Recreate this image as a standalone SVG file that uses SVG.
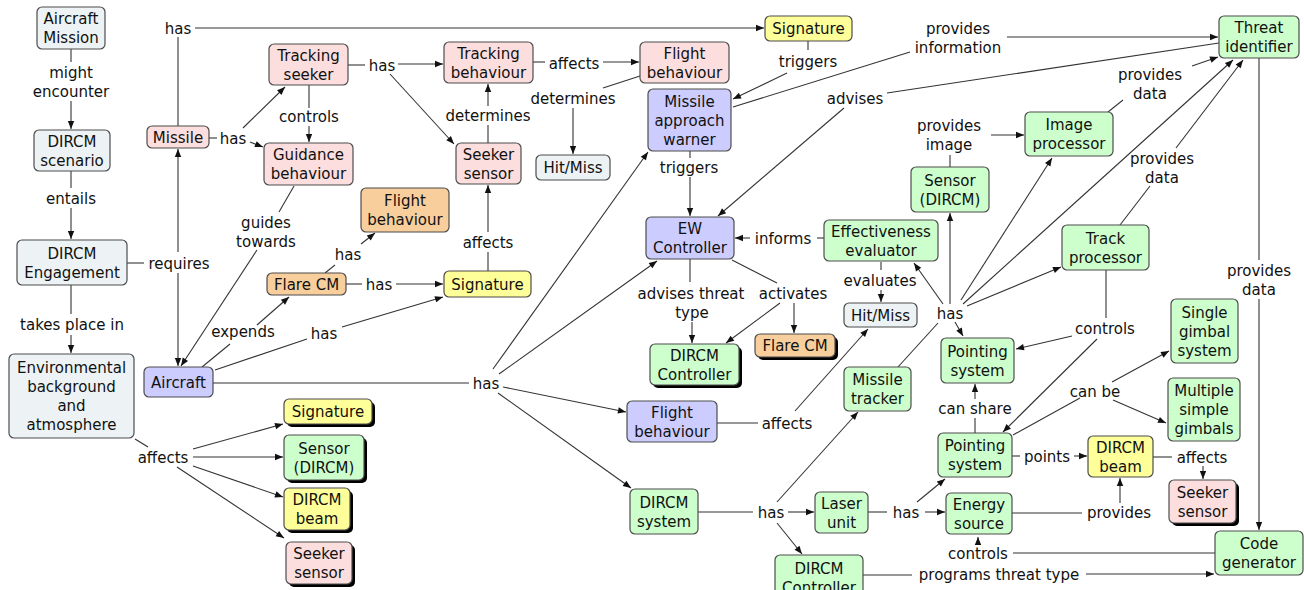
<svg xmlns="http://www.w3.org/2000/svg" width="1304" height="590" viewBox="0 0 1304 590">
<style>
text{font-family:"DejaVu Sans",Verdana,sans-serif;font-size:15px;fill:#111;text-anchor:middle}
.b{stroke:#4d4d4d;stroke-width:1.2}
.s{fill:#000}
.grey{fill:#edf3f4}.pink{fill:#fcdede}.blue{fill:#ccccff}.yellow{fill:#ffff99}.green{fill:#ccffcc}.orange{fill:#f8cf9c}
.ln{fill:none;stroke:#333;stroke-width:1.1}
.ar{fill:none;stroke:#333;stroke-width:1.1;marker-end:url(#ah)}
</style>
<defs>
<marker id="ah" viewBox="0 0 10 10" refX="10" refY="5" markerWidth="9" markerHeight="8" orient="auto" markerUnits="userSpaceOnUse"><path d="M0,1L10,5L0,9z" fill="#111"/></marker>
</defs>
<rect width="1304" height="590" fill="#fff"/>
<g id="connectors">
<path class="ln" d="M71,49V62"/><path class="ar" d="M71,101V129"/>
<path class="ln" d="M71,171V188"/><path class="ar" d="M71,208V239"/>
<path class="ln" d="M71,285V314"/><path class="ar" d="M71,335V353"/>
<path class="ln" d="M127,263H144"/>
<path class="ar" d="M178,252V149"/>
<path class="ar" d="M178,273V366"/>
<path class="ln" d="M178,126V37"/><path class="ar" d="M195,28H764"/>
<path class="ln" d="M209,138H217"/>
<path class="ar" d="M243,128L285,87"/>
<path class="ar" d="M250,142L263,147"/>
<path class="ln" d="M309,85V108"/><path class="ar" d="M309,126V142"/>
<path class="ln" d="M348,65H365"/><path class="ar" d="M398,64H443"/>
<path class="ar" d="M390,74L454,144"/>
<path class="ln" d="M533,62H545"/><path class="ar" d="M603,62H639"/>
<path class="ln" d="M488,143V125"/><path class="ar" d="M488,106V84"/>
<path class="ln" d="M640,76L603,88"/><path class="ar" d="M573,108V154"/>
<path class="ln" d="M808,41V50"/><path class="ar" d="M787,73L733,99"/>
<path class="ln" d="M733,107L910,52"/><path class="ar" d="M1007,37H1218"/>
<path class="ln" d="M1219,43L887,93"/><path class="ar" d="M844,108L718,216"/>
<path class="ln" d="M690,151V158"/><path class="ar" d="M690,177V216"/>
<path class="ln" d="M294,186L279,212"/><path class="ar" d="M257,250L181,366"/>
<path class="ln" d="M202,367L230,344"/><path class="ar" d="M257,325L289,297"/>
<path class="ln" d="M215,370L307,339"/><path class="ar" d="M342,327L443,297"/>
<path class="ln" d="M325,273L335,265"/><path class="ar" d="M361,244L375,233"/>
<path class="ln" d="M346,284H362"/><path class="ar" d="M396,284H443"/>
<path class="ln" d="M488,271V252"/><path class="ar" d="M488,232V185"/>
<path class="ln" d="M213,383H469"/>
<path class="ar" d="M493,369L648,152"/>
<path class="ar" d="M499,374L657,261"/>
<path class="ar" d="M503,387L626,412"/>
<path class="ar" d="M498,393L631,488"/>
<path class="ln" d="M135,439L148,447"/>
<path class="ar" d="M193,449L283,424"/>
<path class="ar" d="M193,457H283"/>
<path class="ar" d="M193,466L283,497"/>
<path class="ar" d="M177,467L284,538"/>
<path class="ln" d="M690,259V282"/><path class="ar" d="M692,322V343"/>
<path class="ln" d="M732,260L777,283"/><path class="ar" d="M780,303L726,343"/><path class="ar" d="M794,303V333"/>
<path class="ln" d="M824,238H817"/><path class="ar" d="M750,238H735"/>
<path class="ln" d="M881,262V270"/><path class="ar" d="M881,290V302"/>
<path class="ln" d="M898,367L938,323"/>
<path class="ar" d="M950,304V213"/>
<path class="ar" d="M943,304L914,263"/>
<path class="ar" d="M955,322L963,336"/>
<path class="ar" d="M967,306L1061,267"/>
<path class="ar" d="M961,300L1052,158"/>
<path class="ar" d="M963,304L1233,60"/>
<path class="ln" d="M950,167V155"/><path class="ar" d="M991,135H1024"/>
<path class="ln" d="M1108,112L1123,100"/><path class="ar" d="M1192,66L1218,57"/>
<path class="ln" d="M1120,225L1150,186"/><path class="ar" d="M1176,148L1243,60"/>
<path class="ln" d="M1106,270V318"/><path class="ar" d="M1072,336L1016,349"/><path class="ar" d="M1097,339L1003,432"/>
<path class="ln" d="M1259,58V260"/><path class="ar" d="M1259,299V530"/>
<path class="ln" d="M1013,435L1080,398"/><path class="ar" d="M1112,382L1169,351"/><path class="ar" d="M1113,400L1166,423"/>
<path class="ln" d="M975,433V418"/><path class="ar" d="M975,399V384"/>
<path class="ln" d="M1012,456H1020"/><path class="ar" d="M1074,456H1087"/>
<path class="ln" d="M1153,457H1172"/><path class="ar" d="M1203,466V479"/>
<path class="ln" d="M1012,513H1082"/><path class="ar" d="M1120,503V478"/>
<path class="ln" d="M1215,553H1013"/><path class="ar" d="M978,545V537"/>
<path class="ln" d="M863,575H912"/><path class="ar" d="M1086,574H1214"/>
<path class="ln" d="M698,512H753"/><path class="ar" d="M788,512H814"/><path class="ar" d="M777,502L858,412"/><path class="ar" d="M777,523L802,554"/>
<path class="ln" d="M868,512H887"/><path class="ar" d="M925,512H945"/><path class="ar" d="M917,502L945,479"/>
<path class="ln" d="M717,423H758"/><path class="ar" d="M795,411L868,329"/>
</g>
<g id="labels">
<text x="71" y="77.5">might</text><text x="71" y="96.5">encounter</text>
<text x="71" y="203.5">entails</text>
<text x="72" y="329.5">takes place in</text>
<text x="179" y="268.5">requires</text>
<text x="178" y="33.5">has</text>
<text x="233" y="143.5">has</text>
<text x="309" y="121.5">controls</text>
<text x="382" y="70.5">has</text>
<text x="574" y="68.5">affects</text>
<text x="488" y="120.5">determines</text>
<text x="573" y="103.5">determines</text>
<text x="808" y="66.5">triggers</text>
<text x="958" y="33.5">provides</text><text x="958" y="52.5">information</text>
<text x="855" y="103.5">advises</text>
<text x="689" y="172.5">triggers</text>
<text x="266" y="227.5">guides</text><text x="266" y="246.5">towards</text>
<text x="243" y="336.5">expends</text>
<text x="324" y="338.5">has</text>
<text x="348" y="259.5">has</text>
<text x="379" y="289.5">has</text>
<text x="488" y="247.5">affects</text>
<text x="486" y="388.5">has</text>
<text x="163" y="462.5">affects</text>
<text x="691" y="298.5">advises threat</text><text x="692" y="317.5">type</text>
<text x="793" y="298.5">activates</text>
<text x="783" y="243.5">informs</text>
<text x="880" y="285.5">evaluates</text>
<text x="950" y="318.5">has</text>
<text x="949" y="130.5">provides</text><text x="949" y="149.5">image</text>
<text x="1150" y="79.5">provides</text><text x="1150" y="98.5">data</text>
<text x="1162" y="163.5">provides</text><text x="1162" y="182.5">data</text>
<text x="1105" y="333.5">controls</text>
<text x="1259" y="275.5">provides</text><text x="1259" y="294.5">data</text>
<text x="1095" y="396.5">can be</text>
<text x="975" y="413.5">can share</text>
<text x="1047" y="461.5">points</text>
<text x="1202" y="462.5">affects</text>
<text x="1119" y="517.5">provides</text>
<text x="978" y="558.5">controls</text>
<text x="999" y="579.5">programs threat type</text>
<text x="771" y="517.5">has</text>
<text x="906" y="517.5">has</text>
<text x="787" y="428.5">affects</text>
</g>
<g id="n1"><rect class="b grey" x="37" y="7" width="68" height="42" rx="5"/><text x="71" y="24">Aircraft</text><text x="71" y="43">Mission</text></g>
<g id="n2"><rect class="b grey" x="34" y="130" width="76" height="41" rx="5"/><text x="72" y="146.5">DIRCM</text><text x="72" y="165.5">scenario</text></g>
<g id="n3"><rect class="b grey" x="17" y="240" width="110" height="45" rx="5"/><text x="72" y="258.5">DIRCM</text><text x="72" y="277.5">Engagement</text></g>
<g id="n4"><rect class="b grey" x="9" y="354" width="125" height="84" rx="5"/><text x="71.5" y="373">Environmental</text><text x="71.5" y="392">background</text><text x="71.5" y="411">and</text><text x="71.5" y="430">atmosphere</text></g>
<g id="n5"><rect class="b pink" x="147" y="126" width="62" height="22" rx="5"/><text x="178" y="142.5">Missile</text></g>
<g id="n6"><rect class="b pink" x="269" y="44" width="79" height="41" rx="5"/><text x="308.5" y="60.5">Tracking</text><text x="308.5" y="79.5">seeker</text></g>
<g id="n7"><rect class="b pink" x="264" y="143" width="89" height="42" rx="5"/><text x="308.5" y="160">Guidance</text><text x="308.5" y="179">behaviour</text></g>
<g id="n8"><rect class="b pink" x="444" y="42" width="89" height="41" rx="5"/><text x="488.5" y="58.5">Tracking</text><text x="488.5" y="77.5">behaviour</text></g>
<g id="n9"><rect class="b pink" x="640" y="42" width="89" height="41" rx="5"/><text x="684.5" y="58.5">Flight</text><text x="684.5" y="77.5">behaviour</text></g>
<g id="n10"><rect class="b pink" x="456" y="143" width="65" height="41" rx="5"/><text x="488.5" y="159.5">Seeker</text><text x="488.5" y="178.5">sensor</text></g>
<g id="n11"><rect class="b grey" x="536" y="155" width="74" height="25" rx="5"/><text x="573" y="173">Hit/Miss</text></g>
<g id="n12"><rect class="b yellow" x="765" y="16" width="87" height="25" rx="5"/><text x="808.5" y="34">Signature</text></g>
<g id="n13"><rect class="b blue" x="648" y="89" width="83" height="62" rx="5"/><text x="689.5" y="106.5">Missile</text><text x="689.5" y="125.5">approach</text><text x="689.5" y="144.5">warner</text></g>
<g id="n14"><rect class="b green" x="1219" y="16" width="80" height="42" rx="5"/><text x="1259" y="33">Threat</text><text x="1259" y="52">identifier</text></g>
<g id="n15"><rect class="b green" x="1025" y="112" width="88" height="44" rx="5"/><text x="1069" y="130">Image</text><text x="1069" y="149">processor</text></g>
<g id="n16"><rect class="b green" x="911" y="167" width="78" height="45" rx="5"/><text x="950" y="185.5">Sensor</text><text x="950" y="204.5">(DIRCM)</text></g>
<g id="n17"><rect class="b blue" x="646" y="217" width="88" height="42" rx="5"/><text x="690" y="234">EW</text><text x="690" y="253">Controller</text></g>
<g id="n18"><rect class="b green" x="824" y="220" width="114" height="41" rx="5"/><text x="881" y="236.5">Effectiveness</text><text x="881" y="255.5">evaluator</text></g>
<g id="n19"><rect class="b grey" x="844" y="303" width="73" height="24" rx="5"/><text x="880.5" y="320.5">Hit/Miss</text></g>
<g id="n20"><rect class="s" x="653" y="347" width="89" height="41" rx="5"/><rect class="b green" x="650" y="344" width="89" height="41" rx="5"/><text x="694.5" y="360.5">DIRCM</text><text x="694.5" y="379.5">Controller</text></g>
<g id="n21"><rect class="s" x="758" y="337" width="80" height="23" rx="5"/><rect class="b orange" x="755" y="334" width="80" height="23" rx="5"/><text x="795" y="351">Flare CM</text></g>
<g id="n22"><rect class="b green" x="844" y="367" width="67" height="44" rx="5"/><text x="877.5" y="385">Missile</text><text x="877.5" y="404">tracker</text></g>
<g id="n23"><rect class="b green" x="941" y="338" width="73" height="45" rx="5"/><text x="977.5" y="356.5">Pointing</text><text x="977.5" y="375.5">system</text></g>
<g id="n24"><rect class="b green" x="1062" y="225" width="87" height="45" rx="5"/><text x="1105.5" y="243.5">Track</text><text x="1105.5" y="262.5">processor</text></g>
<g id="n25"><rect class="b green" x="1171" y="299" width="67" height="64" rx="5"/><text x="1204.5" y="317.5">Single</text><text x="1204.5" y="336.5">gimbal</text><text x="1204.5" y="355.5">system</text></g>
<g id="n26"><rect class="b green" x="1168" y="378" width="72" height="63" rx="5"/><text x="1204" y="396">Multiple</text><text x="1204" y="415">simple</text><text x="1204" y="434">gimbals</text></g>
<g id="n27"><rect class="b green" x="938" y="433" width="74" height="44" rx="5"/><text x="975" y="451">Pointing</text><text x="975" y="470">system</text></g>
<g id="n28"><rect class="b yellow" x="1088" y="436" width="65" height="41" rx="5"/><text x="1120.5" y="452.5">DIRCM</text><text x="1120.5" y="471.5">beam</text></g>
<g id="n29"><rect class="s" x="1172" y="483" width="67" height="43" rx="5"/><rect class="b pink" x="1169" y="480" width="67" height="43" rx="5"/><text x="1202.5" y="497.5">Seeker</text><text x="1202.5" y="516.5">sensor</text></g>
<g id="n30"><rect class="b green" x="946" y="493" width="66" height="41" rx="5"/><text x="979" y="509.5">Energy</text><text x="979" y="528.5">source</text></g>
<g id="n31"><rect class="b green" x="1215" y="531" width="88" height="44" rx="5"/><text x="1259" y="549">Code</text><text x="1259" y="568">generator</text></g>
<g id="n32"><rect class="b green" x="815" y="492" width="53" height="41" rx="5"/><text x="841.5" y="508.5">Laser</text><text x="841.5" y="527.5">unit</text></g>
<g id="n33"><rect class="b green" x="630" y="489" width="68" height="45" rx="5"/><text x="664" y="507.5">DIRCM</text><text x="664" y="526.5">system</text></g>
<g id="n34"><rect class="b green" x="775" y="555" width="88" height="45" rx="5"/><text x="819" y="573.5">DIRCM</text><text x="819" y="592.5">Controller</text></g>
<g id="n35"><rect class="b blue" x="627" y="401" width="90" height="41" rx="5"/><text x="672" y="417.5">Flight</text><text x="672" y="436.5">behaviour</text></g>
<g id="n36"><rect class="b blue" x="144" y="367" width="69" height="30" rx="5"/><text x="178.5" y="387.5">Aircraft</text></g>
<g id="n37"><rect class="b orange" x="267" y="273" width="79" height="22" rx="5"/><text x="306.5" y="289.5">Flare CM</text></g>
<g id="n38"><rect class="b orange" x="361" y="188" width="88" height="44" rx="5"/><text x="405" y="206">Flight</text><text x="405" y="225">behaviour</text></g>
<g id="n39"><rect class="b yellow" x="444" y="271" width="87" height="26" rx="5"/><text x="487.5" y="289.5">Signature</text></g>
<g id="n40"><rect class="s" x="287" y="402" width="88" height="25" rx="5"/><rect class="b yellow" x="284" y="399" width="88" height="25" rx="5"/><text x="328" y="417">Signature</text></g>
<g id="n41"><rect class="s" x="287" y="438" width="80" height="45" rx="5"/><rect class="b green" x="284" y="435" width="80" height="45" rx="5"/><text x="324" y="453.5">Sensor</text><text x="324" y="472.5">(DIRCM)</text></g>
<g id="n42"><rect class="s" x="287" y="491" width="66" height="42" rx="5"/><rect class="b yellow" x="284" y="488" width="66" height="42" rx="5"/><text x="317" y="505">DIRCM</text><text x="317" y="524">beam</text></g>
<g id="n43"><rect class="s" x="289" y="545" width="66" height="42" rx="5"/><rect class="b pink" x="286" y="542" width="66" height="42" rx="5"/><text x="319" y="559">Seeker</text><text x="319" y="578">sensor</text></g>
</svg>
